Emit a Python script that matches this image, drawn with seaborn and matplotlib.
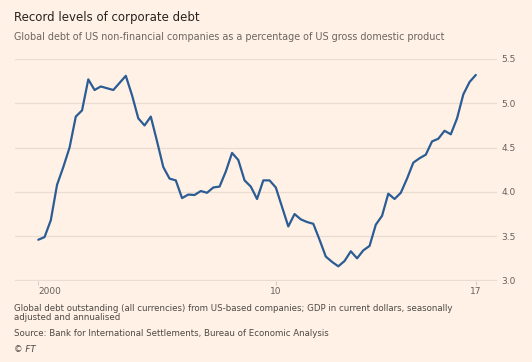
import matplotlib
matplotlib.use("Agg")
import matplotlib.pyplot as plt
import seaborn as sns
import pandas as pd
import numpy as np

# Quarterly observations (index 0 = first quarter shown), debt as % of GDP ... ratio
debt_ratio = [
    3.46, 3.49, 3.68, 4.08, 4.28, 4.50, 4.85, 4.92, 5.27, 5.15,
    5.19, 5.17, 5.15, 5.23, 5.31, 5.09, 4.83, 4.75, 4.85, 4.57,
    4.28, 4.15, 4.13, 3.93, 3.97, 3.965, 4.01, 3.99, 4.05, 4.06,
    4.23, 4.44, 4.36, 4.13, 4.06, 3.92, 4.13, 4.13, 4.05, 3.83,
    3.61, 3.75, 3.69, 3.66, 3.64, 3.46, 3.27, 3.21, 3.16, 3.22,
    3.33, 3.25, 3.34, 3.39, 3.63, 3.73, 3.98, 3.92, 3.99, 4.15,
    4.33, 4.38, 4.42, 4.57, 4.60, 4.69, 4.65, 4.83, 5.10, 5.24,
    5.32,
]
quarter_index = list(range(len(debt_ratio)))
x_tick_positions = [0, 38, 70]
x_tick_labels = ["2000", "10", "17"]
y_ticks = [3.0, 3.5, 4.0, 4.5, 5.0, 5.5]

title = "Record levels of corporate debt"
subtitle = "Global debt of US non-financial companies as a percentage of US gross domestic product"
note = ("Global debt outstanding (all currencies) from US-based companies; GDP in current dollars, seasonally\n"
        "adjusted and annualised")
source = "Source: Bank for International Settlements, Bureau of Economic Analysis"

df = pd.DataFrame({"q": quarter_index, "ratio": debt_ratio})

BG = "#fff1e5"
sns.set_theme(style="white", rc={"axes.facecolor": BG, "figure.facecolor": BG})
plt.rcParams["font.family"] = ["DejaVu Sans"]

W, H = 532, 362
fig = plt.figure(figsize=(W / 100, H / 100), dpi=100)
left_px, right_px, top_px, bottom_px = 15, 497, 59, 280.5
ax = fig.add_axes([left_px / W, 1 - bottom_px / H, (right_px - left_px) / W, (bottom_px - top_px) / H])

sns.lineplot(data=df, x="q", y="ratio", ax=ax, color="#2b5c94", linewidth=1.6, zorder=3)

# x mapping: index 0 at 38.3px, 6.25 px per quarter
px_per_q = 6.25
x0 = 38.3
ax.set_xlim((left_px - x0) / px_per_q, (right_px - x0) / px_per_q)
ax.set_ylim(3.0, 5.5)

for s in ax.spines.values():
    s.set_visible(False)

ax.set_yticks(y_ticks)
ax.set_yticklabels([f"{v:.1f}" for v in y_ticks])
ax.yaxis.tick_right()
ax.tick_params(axis="y", length=0, pad=3, labelsize=6.5, labelcolor="#66605c")
ax.grid(axis="y", color="#e9ddd2", linewidth=0.9)
ax.grid(axis="x", visible=False)

ax.set_xticks(x_tick_positions)
ax.set_xticklabels(x_tick_labels)
ax.tick_params(axis="x", length=3, width=0.8, color="#d9cdc2", pad=2,
               labelsize=6.5, labelcolor="#66605c", bottom=True)
first_lbl = ax.get_xticklabels()[0]
first_lbl.set_horizontalalignment("left")
ax.set_xlabel("")
ax.set_ylabel("")

fig.text(14 / W, 1 - 17 / H, title, fontsize=8.5, color="#262220", va="center", ha="left")
fig.text(14 / W, 1 - 37 / H, subtitle, fontsize=6.9, color="#6b6460", va="center", ha="left")
fig.text(14 / W, 1 - 313 / H, note, fontsize=6.2, color="#4d4845", va="center", ha="left",
         linespacing=1.0)
fig.text(14 / W, 1 - 334 / H, source, fontsize=6.2, color="#4d4845", va="center", ha="left")
fig.text(14 / W, 1 - 349 / H, "© FT", fontsize=6.2, color="#4d4845", va="center", ha="left",
         style="italic")

fig.savefig("out.png", dpi=100, facecolor=BG)
